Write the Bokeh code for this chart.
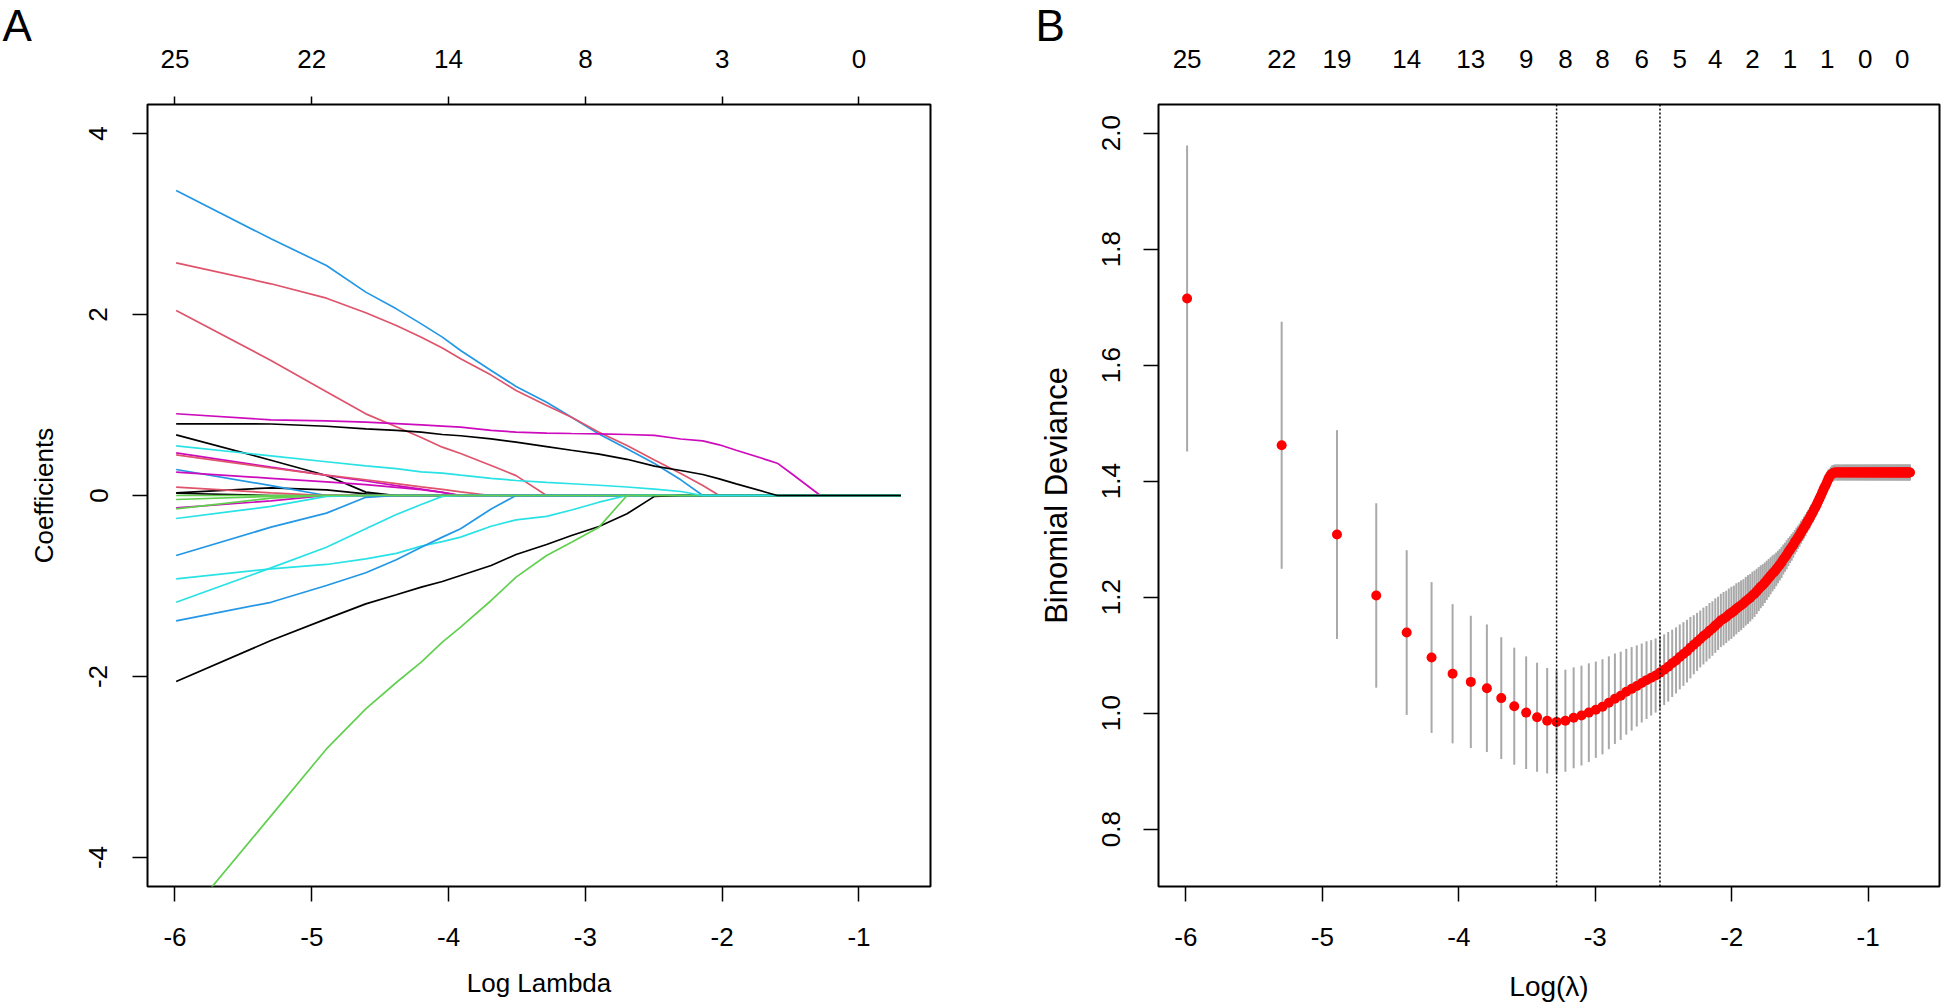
import numpy as np
from bokeh.plotting import figure
from bokeh.layouts import row
from bokeh.models import Range1d, LinearAxis, FixedTicker, CustomJSTickFormatter, Span
from bokeh.embed import file_html
from bokeh.resources import INLINE

# ------------------------------------------------------------------ data
lambda_step = 0.0025                      # lambda grid: 0.0025, 0.005, ... 0.5
lambda_index = list(range(1, 201))

# Panel B: cross-validated binomial deviance (mean and standard error)
cv_mean = [
    1.715, 1.462, 1.308, 1.203, 1.139, 1.096, 1.068, 1.054, 1.043, 1.026,
    1.012, 1.001, 0.993, 0.987, 0.985, 0.987, 0.992, 0.996, 1.001, 1.006,
    1.011, 1.018, 1.025, 1.030, 1.037, 1.042, 1.047, 1.052, 1.057, 1.061,
    1.065, 1.070, 1.075, 1.080, 1.086, 1.091, 1.097, 1.102, 1.107, 1.113,
    1.118, 1.123, 1.128, 1.133, 1.137, 1.142, 1.146, 1.151, 1.155, 1.160,
    1.163, 1.166, 1.170, 1.173, 1.176, 1.180, 1.183, 1.186, 1.189, 1.193,
    1.196, 1.199, 1.203, 1.206, 1.210, 1.214, 1.218, 1.221, 1.225, 1.229,
    1.233, 1.237, 1.241, 1.244, 1.248, 1.252, 1.256, 1.260, 1.265, 1.269,
    1.273, 1.278, 1.282, 1.286, 1.290, 1.295, 1.299, 1.303, 1.307, 1.312,
    1.316, 1.320, 1.324, 1.329, 1.333, 1.337, 1.342, 1.346, 1.351, 1.355,
    1.360, 1.365, 1.370, 1.375, 1.380, 1.385, 1.390, 1.394, 1.399, 1.404,
    1.408, 1.411, 1.413, 1.414, 1.415, 1.415, 1.415, 1.415, 1.415, 1.415,
    1.415, 1.415, 1.415, 1.415, 1.415, 1.415, 1.415, 1.415, 1.415, 1.415,
    1.415, 1.415, 1.415, 1.415, 1.415, 1.415, 1.415, 1.415, 1.415, 1.415,
    1.415, 1.415, 1.415, 1.415, 1.415, 1.415, 1.415, 1.415, 1.415, 1.415,
    1.415, 1.415, 1.415, 1.415, 1.415, 1.415, 1.415, 1.415, 1.415, 1.415,
    1.415, 1.415, 1.415, 1.415, 1.415, 1.415, 1.415, 1.415, 1.415, 1.415,
    1.415, 1.415, 1.415, 1.415, 1.415, 1.415, 1.415, 1.415, 1.415, 1.415,
    1.415, 1.415, 1.415, 1.415, 1.415, 1.415, 1.415, 1.415, 1.415, 1.415,
    1.415, 1.415, 1.415, 1.415, 1.415, 1.415, 1.415, 1.415, 1.415, 1.415,
]
cv_se = [
    0.264, 0.213, 0.180, 0.159, 0.142, 0.130, 0.120, 0.114, 0.110, 0.105,
    0.101, 0.097, 0.094, 0.091, 0.089, 0.088, 0.087, 0.086, 0.085, 0.083,
    0.082, 0.080, 0.078, 0.076, 0.074, 0.072, 0.070, 0.068, 0.067, 0.065,
    0.064, 0.062, 0.061, 0.060, 0.058, 0.057, 0.056, 0.055, 0.054, 0.053,
    0.051, 0.050, 0.049, 0.049, 0.048, 0.048, 0.047, 0.047, 0.046, 0.046,
    0.046, 0.045, 0.045, 0.045, 0.044, 0.044, 0.043, 0.043, 0.042, 0.042,
    0.042, 0.041, 0.041, 0.040, 0.039, 0.038, 0.037, 0.036, 0.035, 0.034,
    0.033, 0.032, 0.031, 0.030, 0.029, 0.028, 0.027, 0.027, 0.026, 0.025,
    0.025, 0.024, 0.023, 0.023, 0.022, 0.021, 0.021, 0.020, 0.020, 0.020,
    0.019, 0.019, 0.019, 0.018, 0.018, 0.018, 0.018, 0.017, 0.017, 0.017,
    0.016, 0.016, 0.016, 0.016, 0.016, 0.016, 0.016, 0.016, 0.016, 0.016,
    0.014, 0.014, 0.014, 0.014, 0.014, 0.014, 0.014, 0.014, 0.014, 0.014,
    0.014, 0.014, 0.014, 0.014, 0.014, 0.014, 0.014, 0.014, 0.014, 0.014,
    0.014, 0.014, 0.014, 0.014, 0.014, 0.014, 0.014, 0.014, 0.014, 0.014,
    0.014, 0.014, 0.014, 0.014, 0.014, 0.014, 0.014, 0.014, 0.014, 0.014,
    0.014, 0.014, 0.014, 0.014, 0.014, 0.014, 0.014, 0.014, 0.014, 0.014,
    0.014, 0.014, 0.014, 0.014, 0.014, 0.014, 0.014, 0.014, 0.014, 0.014,
    0.014, 0.014, 0.014, 0.014, 0.014, 0.014, 0.014, 0.014, 0.014, 0.014,
    0.014, 0.014, 0.014, 0.014, 0.014, 0.014, 0.014, 0.014, 0.014, 0.014,
    0.014, 0.014, 0.014, 0.014, 0.014, 0.014, 0.014, 0.014, 0.014, 0.014,
]
lambda_min_index = 15
lambda_1se_index = 32
top_b_index = [1, 2, 3, 5, 8, 12, 16, 21, 28, 37, 48, 63, 83, 109, 144, 189]
top_b_labels = ["25", "22", "19", "14", "13", "9", "8", "8", "6", "5", "4", "2", "1", "1", "0", "0"]
b_y_ticks = [0.8, 1.0, 1.2, 1.4, 1.6, 1.8, 2.0]

# Panel A: coefficient paths, read at these lambda indices
path_k = [1, 2, 3, 4, 5, 6, 7, 8, 10, 12, 15, 18, 22, 27, 33, 40, 47, 53, 60, 75, 81, 90, 111, 200]
coef_blue_1 = [3.370, 2.836, 2.541, 2.247, 2.062, 1.896, 1.750, 1.602, 1.381, 1.204, 1.031, 0.865, 0.680, 0.516, 0.354, 0.173, 0, 0, 0, 0, 0, 0, 0, 0]
coef_red_1 = [2.571, 2.339, 2.180, 2.019, 1.879, 1.749, 1.630, 1.510, 1.330, 1.160, 0.994, 0.865, 0.700, 0.552, 0.392, 0.243, 0.110, 0, 0, 0, 0, 0, 0, 0]
coef_red_2 = [2.044, 1.492, 1.146, 0.902, 0.759, 0.641, 0.534, 0.464, 0.331, 0.220, 0, 0, 0, 0, 0, 0, 0, 0, 0, 0, 0, 0, 0, 0]
coef_magenta_1 = [0.903, 0.836, 0.825, 0.810, 0.795, 0.780, 0.767, 0.755, 0.720, 0.700, 0.690, 0.685, 0.680, 0.674, 0.665, 0.624, 0.604, 0.560, 0.500, 0.394, 0.357, 0.240, 0, 0]
coef_black_1 = [0.792, 0.790, 0.765, 0.737, 0.720, 0.700, 0.674, 0.660, 0.625, 0.589, 0.541, 0.500, 0.457, 0.400, 0.324, 0.276, 0.232, 0.184, 0.129, 0.033, 0, 0, 0, 0]
coef_black_2 = [0.670, 0.390, 0.221, 0.037, 0, 0, 0, 0, 0, 0, 0, 0, 0, 0, 0, 0, 0, 0, 0, 0, 0, 0, 0, 0]
coef_black_3 = [0.030, 0.085, 0.063, 0.018, 0, 0, 0, 0, 0, 0, 0, 0, 0, 0, 0, 0, 0, 0, 0, 0, 0, 0, 0, 0]
coef_black_4 = [0.025, 0, 0, 0, 0, 0, 0, 0, 0, 0, 0, 0, 0, 0, 0, 0, 0, 0, 0, 0, 0, 0, 0, 0]
coef_cyan_1 = [0.549, 0.438, 0.373, 0.328, 0.297, 0.262, 0.247, 0.225, 0.190, 0.166, 0.145, 0.130, 0.113, 0.094, 0.070, 0.044, 0, 0, 0, 0, 0, 0, 0, 0]
coef_magenta_2 = [0.471, 0.314, 0.223, 0.160, 0.110, 0.070, 0.035, 0, 0, 0, 0, 0, 0, 0, 0, 0, 0, 0, 0, 0, 0, 0, 0, 0]
coef_red_3 = [0.449, 0.304, 0.225, 0.174, 0.131, 0.096, 0.068, 0.040, 0, 0, 0, 0, 0, 0, 0, 0, 0, 0, 0, 0, 0, 0, 0, 0]
coef_blue_2 = [0.287, 0.110, 0, 0, 0, 0, 0, 0, 0, 0, 0, 0, 0, 0, 0, 0, 0, 0, 0, 0, 0, 0, 0, 0]
coef_magenta_3 = [0.258, 0.190, 0.150, 0.120, 0.090, 0.065, 0.035, 0, 0, 0, 0, 0, 0, 0, 0, 0, 0, 0, 0, 0, 0, 0, 0, 0]
coef_red_4 = [0.092, 0.030, 0, 0, 0, 0, 0, 0, 0, 0, 0, 0, 0, 0, 0, 0, 0, 0, 0, 0, 0, 0, 0, 0]
coef_green_1 = [-0.044, -0.010, 0, 0, 0, 0, 0, 0, 0, 0, 0, 0, 0, 0, 0, 0, 0, 0, 0, 0, 0, 0, 0, 0]
coef_magenta_4 = [-0.136, -0.060, 0, 0, 0, 0, 0, 0, 0, 0, 0, 0, 0, 0, 0, 0, 0, 0, 0, 0, 0, 0, 0, 0]
coef_green_2 = [-0.147, -0.030, 0, 0, 0, 0, 0, 0, 0, 0, 0, 0, 0, 0, 0, 0, 0, 0, 0, 0, 0, 0, 0, 0]
coef_cyan_2 = [-0.254, -0.120, -0.010, 0, 0, 0, 0, 0, 0, 0, 0, 0, 0, 0, 0, 0, 0, 0, 0, 0, 0, 0, 0, 0]
coef_blue_3 = [-0.663, -0.350, -0.195, -0.020, 0, 0, 0, 0, 0, 0, 0, 0, 0, 0, 0, 0, 0, 0, 0, 0, 0, 0, 0, 0]
coef_cyan_3 = [-0.921, -0.810, -0.762, -0.700, -0.640, -0.560, -0.510, -0.460, -0.340, -0.269, -0.230, -0.160, -0.074, 0, 0, 0, 0, 0, 0, 0, 0, 0, 0, 0]
coef_cyan_4 = [-1.179, -0.800, -0.571, -0.368, -0.210, -0.100, -0.010, 0, 0, 0, 0, 0, 0, 0, 0, 0, 0, 0, 0, 0, 0, 0, 0, 0]
coef_blue_4 = [-1.385, -1.180, -0.994, -0.854, -0.710, -0.571, -0.460, -0.368, -0.150, 0, 0, 0, 0, 0, 0, 0, 0, 0, 0, 0, 0, 0, 0, 0]
coef_black_5 = [-2.055, -1.602, -1.363, -1.197, -1.097, -1.013, -0.950, -0.884, -0.773, -0.652, -0.541, -0.442, -0.342, -0.202, -0.010, 0, 0, 0, 0, 0, 0, 0, 0, 0]
coef_green_3 = [-4.800, -3.540, -2.800, -2.357, -2.066, -1.840, -1.620, -1.455, -1.160, -0.902, -0.663, -0.516, -0.350, 0, 0, 0, 0, 0, 0, 0, 0, 0, 0, 0]
coef_green_0 = [0, 0, 0, 0, 0, 0, 0, 0, 0, 0, 0, 0, 0, 0, 0, 0, 0, 0, 0, 0, 0, 0, 0, 0]

top_a_ticks = [-6, -5, -4, -3, -2, -1]
top_a_labels = ["25", "22", "14", "8", "3", "0"]
x_ticks = [-6, -5, -4, -3, -2, -1]
a_y_ticks = [-4, -2, 0, 2, 4]

# ------------------------------------------------------------------ style
FONT = "Liberation Sans"
C_BLACK, C_RED, C_GREEN, C_BLUE, C_CYAN, C_MAGENTA = "#000000", "#DF536B", "#61D04F", "#2297E6", "#28E2E5", "#CD0BBC"

paths = [
    (coef_blue_1, C_BLUE), (coef_red_1, C_RED), (coef_red_2, C_RED), (coef_magenta_1, C_MAGENTA),
    (coef_black_2, C_BLACK), (coef_black_3, C_BLACK), (coef_black_4, C_BLACK),
    (coef_magenta_2, C_MAGENTA), (coef_red_3, C_RED), (coef_blue_2, C_BLUE), (coef_magenta_3, C_MAGENTA),
    (coef_red_4, C_RED), (coef_green_1, C_GREEN), (coef_magenta_4, C_MAGENTA), (coef_green_2, C_GREEN),
    (coef_cyan_2, C_CYAN), (coef_blue_3, C_BLUE), (coef_cyan_3, C_CYAN), (coef_cyan_4, C_CYAN),
    (coef_blue_4, C_BLUE), (coef_black_5, C_BLACK), (coef_green_3, C_GREEN), (coef_green_0, C_GREEN),
    (coef_cyan_1, C_CYAN), (coef_black_1, C_BLACK),
]

H = 1006
WA, WB = 1010, 932
A_L, A_T, A_W, A_H = 147, 104, 783, 782
B_L, B_W = 148, 781
XR = (-6.201, -0.477)
YA = (-4.32, 4.32)
YB = (0.7012, 2.0495)
TICK_SIZE = "26px"

log_lambda = np.log(np.array(lambda_index) * lambda_step)


def ax_(ticks, code, args, tick_out, standoff, vertical=False):
    ax = LinearAxis(ticker=FixedTicker(ticks=ticks),
                    formatter=CustomJSTickFormatter(args=args, code=code))
    ax.axis_line_color = None
    ax.major_tick_in = 0
    ax.major_tick_out = tick_out
    ax.major_tick_line_color = "black" if tick_out > 0 else None
    ax.major_tick_line_width = 1.5
    ax.minor_tick_line_color = None
    ax.major_label_standoff = standoff
    ax.major_label_text_font = FONT
    ax.major_label_text_font_size = TICK_SIZE
    ax.major_label_text_color = "black"
    ax.axis_label_text_font = FONT
    ax.axis_label_text_font_style = "normal"
    ax.axis_label_text_color = "black"
    if vertical:
        ax.major_label_orientation = "vertical"
    return ax


LOOKUP = """
let best = 0, d = Infinity;
for (let i = 0; i < pos.length; i++) { const e = Math.abs(pos[i] - tick); if (e < d) { d = e; best = i; } }
return labs[best];
"""
INT_FMT = "return tick.toFixed(0);"
ONE_FMT = "return tick.toFixed(1);"


def base_fig(width, left, frame_w, yr, letter, letter_offset):
    p = figure(width=width, height=H, x_range=Range1d(*XR), y_range=Range1d(*yr),
               output_backend="svg", toolbar_location=None,
               x_axis_location=None, y_axis_location=None,
               min_border_left=left, min_border_top=A_T,
               min_border_right=width - left - frame_w,
               min_border_bottom=H - A_T - A_H)
    p.xgrid.visible = False
    p.ygrid.visible = False
    p.outline_line_color = "black"
    p.outline_line_width = 2
    p.background_fill_color = "white"
    p.border_fill_color = "white"
    p.title.text = letter
    p.title.align = "left"
    p.title.offset = letter_offset
    p.title.standoff = -6
    p.title.text_font = FONT
    p.title.text_font_style = "normal"
    p.title.text_font_size = "44px"
    p.title.text_color = "black"
    return p


# ------------------------------------------------------------------ panel A
pA = base_fig(WA, A_L, A_W, YA, "A", -145)
xs = [log_lambda[k - 1] for k in path_k]
for vals, col in paths:
    pA.line(xs, vals, line_color=col, line_width=1.7)

axA_b = ax_(x_ticks, INT_FMT, {}, 15, 26)
axA_b.axis_label = "Log Lambda"
axA_b.axis_label_text_font_size = "26px"
axA_b.axis_label_standoff = 19
pA.add_layout(axA_b, "below")
axA_l = ax_(a_y_ticks, INT_FMT, {}, 15, 25, vertical=True)
axA_l.axis_label = "Coefficients"
axA_l.axis_label_text_font_size = "26px"
axA_l.axis_label_standoff = 28
pA.add_layout(axA_l, "left")
pA.add_layout(ax_(top_a_ticks, LOOKUP, {"pos": top_a_ticks, "labs": top_a_labels}, 8, 29), "above")

# ------------------------------------------------------------------ panel B
pB = base_fig(WB, B_L, B_W, YB, "B", -123)
lo = [m - s for m, s in zip(cv_mean, cv_se)]
hi = [m + s for m, s in zip(cv_mean, cv_se)]
pB.segment(x0=log_lambda, y0=lo, x1=log_lambda, y1=hi, line_color="#A9A9A9", line_width=2)
pB.scatter(log_lambda, cv_mean, size=10, marker="circle", fill_color="#FF0000", line_color=None)
for idx in (lambda_min_index, lambda_1se_index):
    pB.add_layout(Span(location=float(log_lambda[idx - 1]), dimension="height",
                       line_color="black", line_dash="2 2", line_width=1.5))

top_b_pos = [float(log_lambda[i - 1]) for i in top_b_index]
axB_b = ax_(x_ticks, INT_FMT, {}, 15, 26)
axB_b.axis_label = "Log(\u03bb)"
axB_b.axis_label_text_font_size = "28px"
axB_b.axis_label_standoff = 22
pB.add_layout(axB_b, "below")
axB_l = ax_(b_y_ticks, ONE_FMT, {}, 15, 23, vertical=True)
axB_l.axis_label = "Binomial Deviance"
axB_l.axis_label_text_font_size = "31px"
axB_l.axis_label_standoff = 26
pB.add_layout(axB_l, "left")
pB.add_layout(ax_(top_b_pos, LOOKUP, {"pos": top_b_pos, "labs": top_b_labels}, 0, 37), "above")

layout = row(pA, pB)
open("out.html", "w").write(file_html(layout, INLINE))
